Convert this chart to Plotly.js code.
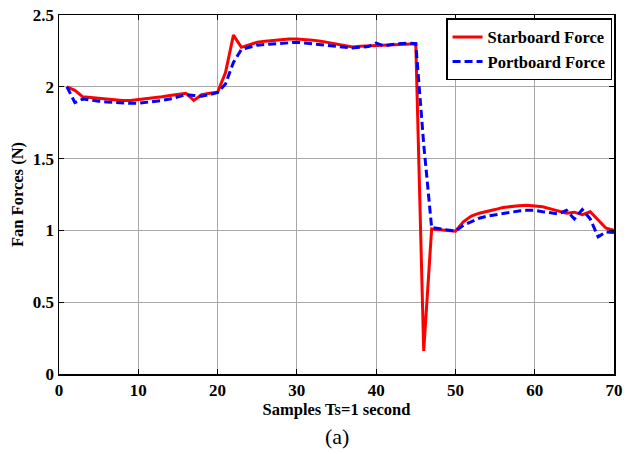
<!DOCTYPE html>
<html>
<head>
<meta charset="utf-8">
<script src="https://cdn.plot.ly/plotly-3.0.1.min.js"></script>
<style>
html,body{margin:0;padding:0;background:#fff;}
#chart{width:630px;height:454px;}
</style>
</head>
<body>
<div id="chart"></div>
<script>
// Sample index 1..70
const samples = Array.from({length: 70}, (_, i) => i + 1);

const starboardForce = [
  2.00, 1.975, 1.93, 1.925, 1.915, 1.91, 1.905, 1.905, 1.905, 1.91,
  1.915, 1.92, 1.93, 1.94, 1.95, 1.955, 1.905, 1.945, 1.955, 1.962,
  2.10, 2.36, 2.275, 2.295, 2.31, 2.318, 2.324, 2.33, 2.333, 2.333,
  2.33, 2.325, 2.318, 2.308, 2.295, 2.285, 2.278, 2.282, 2.285, 2.287,
  2.29, 2.293, 2.295, 2.298, 2.30, 0.16, 1.01, 1.005, 1.00, 0.995,
  1.06, 1.10, 1.12, 1.13, 1.145, 1.16, 1.168, 1.172, 1.175, 1.172,
  1.165, 1.15, 1.135, 1.12, 1.127, 1.11, 1.13, 1.07, 1.015, 1.00
];

const portboardForce = [
  2.00, 1.89, 1.915, 1.905, 1.90, 1.895, 1.89, 1.885, 1.885, 1.885,
  1.89, 1.895, 1.905, 1.915, 1.93, 1.945, 1.94, 1.935, 1.945, 1.96,
  2.02, 2.17, 2.26, 2.275, 2.29, 2.295, 2.30, 2.305, 2.31, 2.31,
  2.305, 2.30, 2.295, 2.29, 2.283, 2.275, 2.27, 2.275, 2.28, 2.305,
  2.285, 2.295, 2.30, 2.305, 2.30, 1.60, 1.02, 1.01, 1.005, 0.995,
  1.035, 1.06, 1.085, 1.10, 1.11, 1.12, 1.13, 1.135, 1.14, 1.14,
  1.13, 1.12, 1.115, 1.14, 1.08, 1.145, 1.08, 0.955, 0.99, 0.985
];

const seriesNames = ['Starboard Force', 'Portboard Force'];
const xTickVals = [0, 10, 20, 30, 40, 50, 60, 70];
const xTickText = ['0', '10', '20', '30', '40', '50', '60', '70'];
const yTickVals = [0, 0.5, 1, 1.5, 2, 2.5];
const yTickText = ['0', '0.5', '1', '1.5', '2', '2.5'];

const serif = 'Liberation Serif';
const bold = s => '<b>' + s + '</b>';

const traces = [
  {
    x: samples, y: starboardForce, name: bold(seriesNames[0]),
    type: 'scatter', mode: 'lines',
    line: {color: '#ff0000', width: 3}
  },
  {
    x: samples, y: portboardForce, name: bold(seriesNames[1]),
    type: 'scatter', mode: 'lines',
    line: {color: '#0000ff', width: 3, dash: '8px,4px'}
  }
];

const axisCommon = {
  showline: true, linecolor: '#000', linewidth: 1.5, mirror: 'ticks',
  ticks: 'inside', ticklen: 5, tickwidth: 1, tickcolor: '#000',
  showgrid: true, gridcolor: '#a8a8a8', gridwidth: 1,
  zeroline: false,
  tickfont: {family: serif, size: 17, color: '#000'}
};

const layout = {
  width: 630, height: 454,
  margin: {l: 59, r: 16, t: 15, b: 80},
  paper_bgcolor: '#fff', plot_bgcolor: '#fff',
  font: {family: serif, color: '#000'},
  showlegend: true,
  legend: {
    x: 0.9965, y: 0.991, xanchor: 'right', yanchor: 'top',
    bgcolor: '#fff', bordercolor: '#000', borderwidth: 1.5,
    font: {family: serif, size: 16.5, color: '#000'},
    tracegroupgap: 0, itemwidth: 30
  },
  xaxis: Object.assign({}, axisCommon, {
    range: [0, 70], tickvals: xTickVals, ticktext: xTickText.map(bold),
    title: {text: bold('Samples Ts=1 second'), standoff: 3,
      font: {family: serif, size: 16.5, color: '#000'}}
  }),
  yaxis: Object.assign({}, axisCommon, {
    range: [0, 2.5], tickvals: yTickVals, ticktext: yTickText.map(bold),
    title: {text: bold('Fan Forces (N)'), standoff: 5,
      font: {family: serif, size: 16.5, color: '#000'}}
  }),
  annotations: [{
    text: '(a)', xref: 'paper', yref: 'paper', x: 0.5, y: -0.175,
    xanchor: 'center', yanchor: 'middle', showarrow: false,
    font: {family: serif, size: 22, color: '#000'}
  }]
};

Plotly.newPlot('chart', traces, layout, {displayModeBar: false, staticPlot: true});
</script>
</body>
</html>
